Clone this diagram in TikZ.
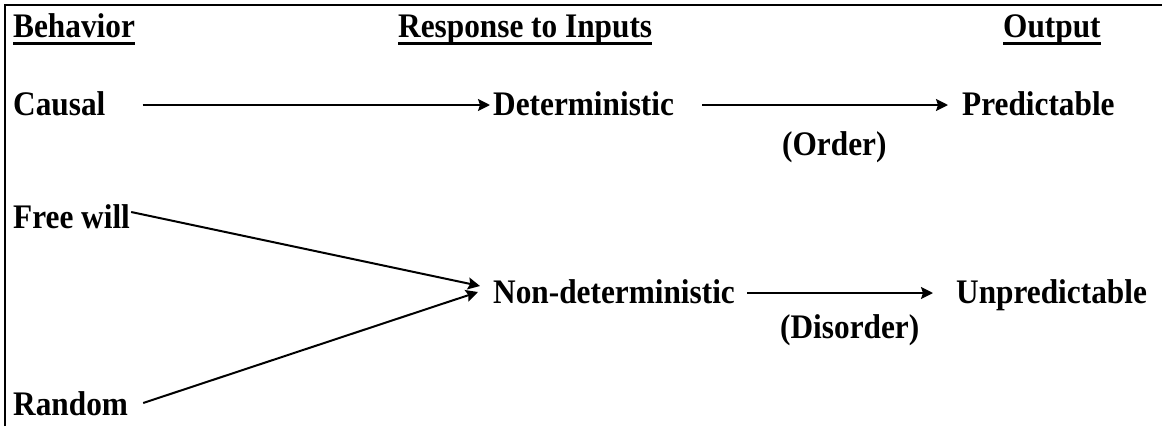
\documentclass[tikz,border=0pt]{standalone}
\usepackage{fontspec}
\setmainfont{Liberation Serif}
\usetikzlibrary{arrows.meta,calc}
\newcommand{\tallbf}[1]{\scalebox{1}[1.1]{#1}}
\begin{document}
\begin{tikzpicture}[x=1pt,y=-1pt,
  lbl/.style={anchor=base west,inner sep=0pt,font=\fontsize{31.3}{37}\selectfont\bfseries},
  arr/.style={line width=2pt,-{Stealth[length=12pt,width=12pt,inset=2pt]}},
  uline/.style={line width=2.6pt},
  frame/.style={line width=2.6pt}]
\useasboundingbox (0,0) rectangle (1162,426);
\draw[frame] (5,426) -- (5,5) -- (1162,5);
% headers
\node[lbl] (beh) at (13,37) {\tallbf{Behavior}};
\node[lbl] (resp) at (398,37) {\tallbf{Response to Inputs}};
\node[lbl] (out) at (1003,37) {\tallbf{Output}};
\foreach \n in {beh,resp,out}
  \draw[uline] ([yshift=-6.5pt]\n.base west) -- ([yshift=-6.5pt]\n.base east);
% labels
\node[lbl] (causal) at (13,115) {\tallbf{Causal}};
\node[lbl] (det) at (493,115) {\tallbf{Deterministic}};
\node[lbl] (pred) at (962,115) {\tallbf{Predictable}};
\node[lbl] (order) at (782,155) {\tallbf{(Order)}};
\node[lbl] (free) at (13,228) {\tallbf{Free will}};
\node[lbl] (nondet) at (493,303) {\tallbf{Non-deterministic}};
\node[lbl] (unpred) at (956,303) {\tallbf{Unpredictable}};
\node[lbl] (disorder) at (780,338) {\tallbf{(Disorder)}};
\node[lbl] (random) at (13,415) {\tallbf{Random}};
% connectors
\draw[arr] ($(causal.base east)+(37,-10)$) -- ($(det.base west)+(-3,-10)$);
\draw[arr] ($(det.base east)+(28,-10)$) -- ($(pred.base west)+(-14,-10)$);
\draw[arr] ($(free.base east)+(1,-16)$) -- ($(nondet.base west)+(-13,-17)$);
\draw[arr] ($(random.base east)+(15,-12)$) -- ($(nondet.base west)+(-15,-11)$);
\draw[arr] ($(nondet.base east)+(12,-10)$) -- ($(unpred.base west)+(-23,-10)$);
\end{tikzpicture}
\end{document}
